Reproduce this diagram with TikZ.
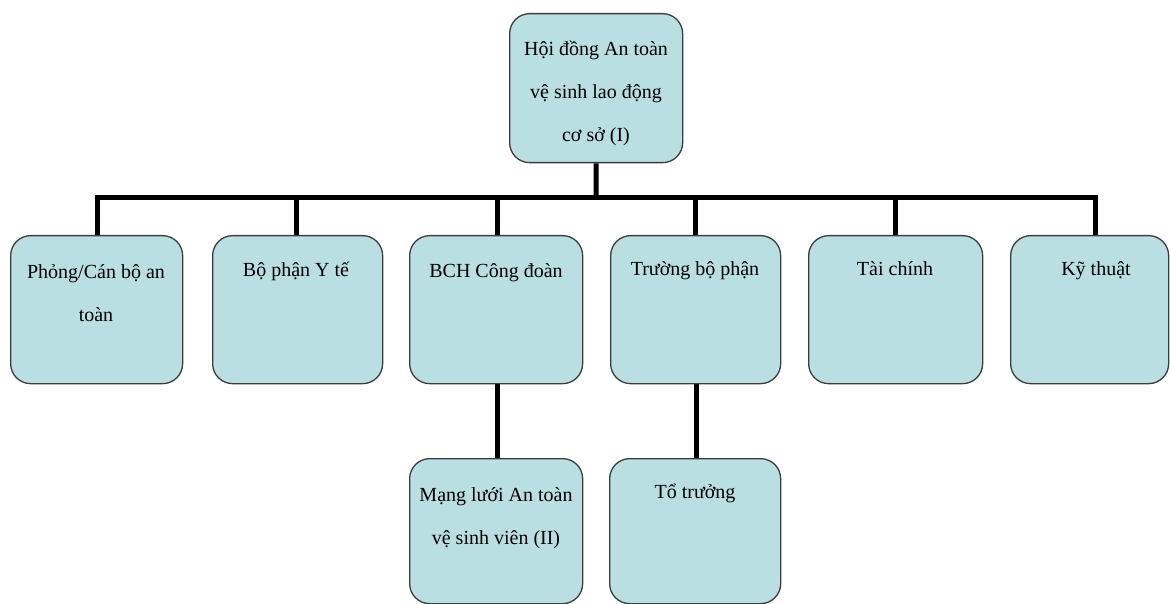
\documentclass[tikz,border=0pt]{standalone}
\usepackage{fontspec}
\setmainfont{Liberation Serif}
\definecolor{boxfill}{RGB}{186,223,226}
\definecolor{boxline}{RGB}{60,60,60}
\tikzset{
  unitbox/.style={draw=boxline, line width=1.3pt, fill=boxfill,
    rounded corners=20pt, inner sep=0pt, anchor=north west},
  label text/.style={anchor=north, inner sep=0pt, align=center,
    font=\fontsize{20}{43}\selectfont},
  link/.style={line width=5pt, line join=miter, draw=black}
}
\begin{document}
\begin{tikzpicture}[x=1pt,y=-1pt]
\useasboundingbox (0,0) rectangle (1170,604);

% boxes
\node[unitbox, minimum width=173pt, minimum height=149pt] (top) at (509,13) {};
\node[unitbox, minimum width=172pt, minimum height=148pt] (b1) at (10,235) {};
\node[unitbox, minimum width=170pt, minimum height=148pt] (b2) at (212,235) {};
\node[unitbox, minimum width=173pt, minimum height=148pt] (b3) at (409,235) {};
\node[unitbox, minimum width=170pt, minimum height=148pt] (b4) at (610,235) {};
\node[unitbox, minimum width=174pt, minimum height=148pt] (b5) at (808,235) {};
\node[unitbox, minimum width=158pt, minimum height=148pt] (b6) at (1010,235) {};
\node[unitbox, minimum width=173pt, minimum height=145pt] (b7) at (409,458) {};
\node[unitbox, minimum width=171pt, minimum height=145pt] (b8) at (609,458) {};

% texts
\node[label text] (ttop) at (596,25) {\strut Hội đồng An toàn\\vệ sinh lao động\\cơ sở (I)};
\node[label text] (t1) at (96,248) {\strut Phỏng/Cán bộ an\\toàn};
\node[label text] (t2) at (296,246) {\strut Bộ phận Y tế};
\node[label text] (t3) at (496,247) {\strut BCH Công đoàn};
\node[label text] (t4) at (695,245) {\strut Trường bộ phận};
\node[label text] (t5) at (895,245) {\strut Tài chính};
\node[label text] (t6) at (1096,245) {\strut Kỹ thuật};
\node[label text] (t7) at (496,471) {\strut Mạng lưới An toàn\\vệ sinh viên (II)};
\node[label text] (t8) at (695,468) {\strut Tổ trưởng};

% connectors
\coordinate (jn) at (596,198);
\draw[link] (top.south) -- (jn);
\draw[link] (jn) -| ([xshift=1pt]b1.north);
\draw[link] (jn) -| ([xshift=-1pt]b2.north);
\draw[link] (jn) -| ([xshift=1.5pt]b3.north);
\draw[link] (jn) -| (b4.north);
\draw[link] (jn) -| (b5.north);
\draw[link] (jn) -| ([xshift=6pt]b6.north);
\draw[link] ([xshift=1.5pt]b3.south) -- ([xshift=1.5pt]b7.north);
\draw[link] ([xshift=0.5pt]b4.south) -- ([xshift=0.5pt]b8.north -| b4.south);
\end{tikzpicture}
\end{document}
